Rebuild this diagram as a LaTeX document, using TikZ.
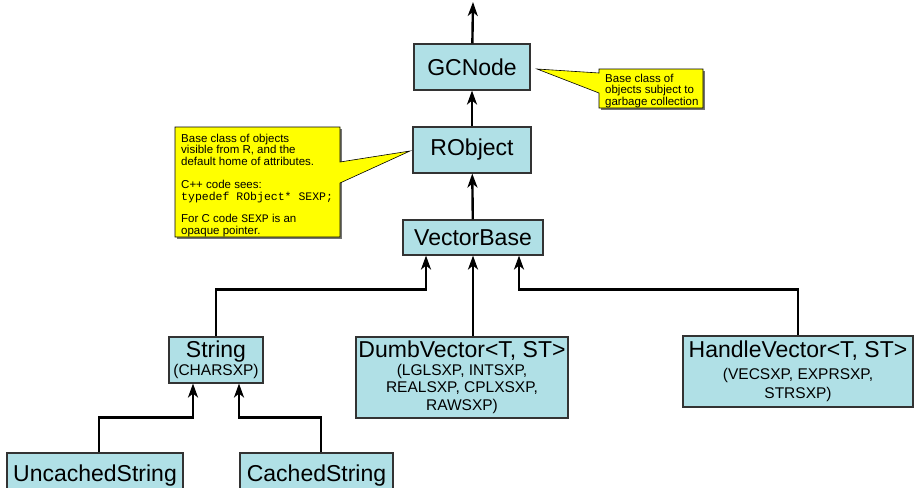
\documentclass[tikz,border=0pt]{standalone}
\usepackage{fontspec}
\setmainfont{Liberation Sans}
\setmonofont{Liberation Mono}
\usetikzlibrary{arrows.meta}
\definecolor{clsblue}{HTML}{B0E0E6}
\definecolor{noteyellow}{HTML}{FFFF00}
\newcommand\subsize{\fontsize{15.5}{17.5}\selectfont}

\begin{document}
\begin{tikzpicture}[x=1pt, y=-1pt,
  cls/.style = {draw=black!80, line width=1.1pt, fill=clsblue, inner sep=0pt,
                align=center, font=\fontsize{23}{17.5}\selectfont},
  note/.style = {draw=black, line width=0.6pt, fill=noteyellow},
  notetext/.style = {inner sep=0pt, align=left, anchor=north west,
                     font=\fontsize{11.5}{11.9}\selectfont},
  arr/.style = {line width=2.4pt, -{Stealth[length=14pt, width=10pt, inset=4pt]}},
  ]
  \useasboundingbox (0,0) rectangle (915,487);
  \clip (0,0) rectangle (915,487);

  \node[cls, minimum width=116pt, minimum height=46pt] (gcnode) at (472,67) {GCNode};
  \node[cls, minimum width=118pt, minimum height=46pt] (robject) at (472,150) {RObject};
  \node[cls, minimum width=140pt, minimum height=35pt] (vbase) at (473,237.5) {VectorBase};
  \node[cls, minimum width=94pt, minimum height=46pt] (string) at (216,360)
    {String\\\subsize (CHARSXP)};
  \node[cls, minimum width=212pt, minimum height=81pt] (dumb) at (462,377.5)
    {DumbVector<T, ST>\\\subsize (LGLSXP, INTSXP,\\\subsize REALSXP, CPLXSXP,\\\subsize RAWSXP)};
  \node[cls, minimum width=230pt, minimum height=71pt] (handle) at (798,371.5)
    {HandleVector<T, ST>\\[5pt]\subsize (VECSXP, EXPRSXP,\\[1.5pt]\subsize STRSXP)};
  \node[cls, minimum width=176pt, minimum height=46pt] (uncached) at (95,476) {UncachedString};
  \node[cls, minimum width=153pt, minimum height=46pt] (cached) at (316.5,476) {CachedString};

  \coordinate (top) at (473,2);
  \draw[arr] (gcnode) -- (top);
  \draw[arr] (robject) -- (gcnode);
  \draw[arr] (vbase) -- (robject);
  \draw[arr] (string.north) -- ++(0,-47) -| ([xshift=-47pt]vbase.south);
  \draw[arr] (dumb.north -| vbase.south) -- (vbase.south);
  \draw[arr] (handle.north) -- ++(0,-46) -| ([xshift=46pt]vbase.south);
  \draw[arr] ([xshift=4pt]uncached.north) -- ++(0,-35) -| ([xshift=-23pt]string.south);
  \draw[arr] ([xshift=4.5pt]cached.north) -- ++(0,-35) -| ([xshift=23pt]string.south);

  % callouts
  \fill[black!55] (601,71) rectangle (705,110);
  \draw[note] (599,69) -- (703,69) -- (703,108) -- (599,108) -- (599,93)
    -- (537,69) -- (599,73) -- cycle;
  \node[notetext] (gcnote) at (605,73.5)
    {Base class of\\objects subject to\\garbage collection};

  \fill[black!55] (177,129) rectangle (342,239);
  \draw[note] (175,127) -- (340,127) -- (340,162) -- (410,151) -- (340,183)
    -- (340,237) -- (175,237) -- cycle;
  \node[notetext] (robjnote) at (181,133.5)
    {Base class of objects\\visible from R, and the\\default home of attributes.\\[10.5pt]
     C++ code sees:\\\ttfamily typedef RObject* SEXP;\\[10.5pt]
     For C code \texttt{SEXP} is an\\opaque pointer.};
\end{tikzpicture}
\end{document}
